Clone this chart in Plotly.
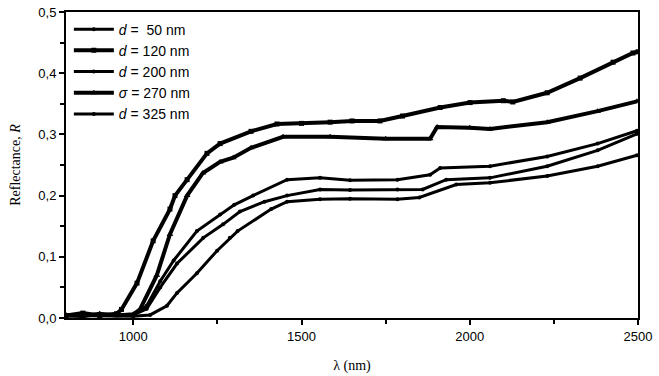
import plotly.graph_objects as go

# Wavelength (nm) / reflectance readings for each film thickness
lam_a = [800, 850, 900, 950, 965, 1011, 1059, 1109, 1124, 1160, 1219, 1258, 1350, 1427, 1500, 1585, 1650, 1733, 1800, 1912, 2001, 2100, 2128, 2230, 2328, 2426, 2485, 2500]
r_a   = [0.004, 0.008, 0.004, 0.007, 0.014, 0.057, 0.126, 0.178, 0.200, 0.226, 0.269, 0.285, 0.305, 0.317, 0.318, 0.320, 0.322, 0.322, 0.330, 0.344, 0.352, 0.355, 0.353, 0.368, 0.392, 0.418, 0.433, 0.435]

lam_b = [800, 850, 900, 950, 1000, 1020, 1070, 1109, 1160, 1207, 1258, 1297, 1350, 1445, 1585, 1750, 1882, 1903, 2000, 2060, 2230, 2380, 2497]
r_b   = [0.005, 0.003, 0.007, 0.004, 0.006, 0.014, 0.070, 0.137, 0.200, 0.237, 0.255, 0.262, 0.278, 0.296, 0.296, 0.293, 0.293, 0.312, 0.311, 0.309, 0.320, 0.338, 0.354]

lam_c = [800, 900, 1000, 1040, 1080, 1120, 1189, 1258, 1300, 1356, 1457, 1555, 1644, 1785, 1882, 1912, 2060, 2230, 2380, 2497]
r_c   = [0.004, 0.006, 0.005, 0.020, 0.060, 0.094, 0.142, 0.169, 0.185, 0.200, 0.226, 0.229, 0.225, 0.226, 0.234, 0.245, 0.248, 0.264, 0.285, 0.306]

lam_d = [800, 900, 1000, 1040, 1080, 1130, 1208, 1267, 1317, 1390, 1457, 1555, 1644, 1785, 1860, 1930, 2060, 2230, 2380, 2497]
r_d   = [0.003, 0.005, 0.005, 0.015, 0.050, 0.089, 0.131, 0.153, 0.174, 0.190, 0.200, 0.210, 0.209, 0.210, 0.210, 0.226, 0.229, 0.248, 0.274, 0.301]

lam_e = [800, 900, 1000, 1050, 1100, 1130, 1189, 1249, 1287, 1310, 1410, 1457, 1555, 1644, 1785, 1850, 1960, 2060, 2230, 2380, 2497]
r_e   = [0.004, 0.003, 0.003, 0.005, 0.020, 0.041, 0.073, 0.110, 0.131, 0.142, 0.178, 0.190, 0.194, 0.195, 0.194, 0.197, 0.218, 0.221, 0.232, 0.248, 0.266]

names = ["<i>d</i> =  50 nm", "<i>d</i> = 120 nm", "<i>d</i> = 200 nm", "<i>σ</i> = 270 nm", "<i>d</i> = 325 nm"]
series = [(lam_c, r_c), (lam_a, r_a), (lam_d, r_d), (lam_b, r_b), (lam_e, r_e)]
widths = [3, 4, 3, 4, 3]
symbols = ["circle", "square", "circle", "triangle-up", "circle"]
msizes = [4, 5, 4, 6, 4]

x_ticks = [1000, 1500, 2000, 2500]
x_labels = ["1000", "1500", "2000", "2500"]
y_ticks = [0.0, 0.1, 0.2, 0.3, 0.4, 0.5]
y_labels = ["0,0", "0,1", "0,2", "0,3", "0,4", "0,5"]

fig = go.Figure()
for (lx, ry), nm, w, s, ms in zip(series, names, widths, symbols, msizes):
    fig.add_trace(go.Scatter(x=lx, y=ry, name=nm, mode="lines+markers",
                             line=dict(color="black", width=w),
                             marker=dict(color="black", size=ms, symbol=s)))

fig.update_layout(
    width=659, height=376,
    margin=dict(l=66, r=21, t=5, b=57),
    paper_bgcolor="white", plot_bgcolor="white",
    font=dict(family="Liberation Sans", color="black", size=12),
    legend=dict(x=0.005, y=0.995, xanchor="left", yanchor="top",
                bgcolor="rgba(0,0,0,0)", font=dict(size=14, family="Liberation Sans"),
                tracegroupgap=0, itemwidth=40),
    showlegend=True,
)
fig.update_xaxes(range=[800, 2500], tickvals=x_ticks, ticktext=x_labels,
                 showline=True, linecolor="black", linewidth=2, mirror=True,
                 ticks="outside", ticklen=5, tickwidth=2, tickcolor="black",
                 showgrid=False, zeroline=False, ticklabeloverflow="allow",
                 minor=dict(tickvals=[1250, 1750, 2250], ticks="outside", ticklen=4, tickwidth=2, tickcolor="black"),
                 tickfont=dict(size=13),
                 title=dict(text="λ (nm)", font=dict(family="Liberation Serif", size=14), standoff=18))
fig.update_yaxes(range=[0, 0.5], tickvals=y_ticks, ticktext=y_labels,
                 showline=True, linecolor="black", linewidth=2, mirror=True,
                 ticks="outside", ticklen=5, tickwidth=2, tickcolor="black",
                 showgrid=False, zeroline=False, ticklabeloverflow="allow",
                 minor=dict(tickvals=[0.05, 0.15, 0.25, 0.35, 0.45], ticks="outside", ticklen=4, tickwidth=2, tickcolor="black"),
                 tickfont=dict(size=13),
                 title=dict(text="Reflectance, <i>R</i>", font=dict(family="Liberation Serif", size=14), standoff=14))

fig.write_html("out.html", config={"displayModeBar": False},
               post_script="document.body.style.margin='0';")
